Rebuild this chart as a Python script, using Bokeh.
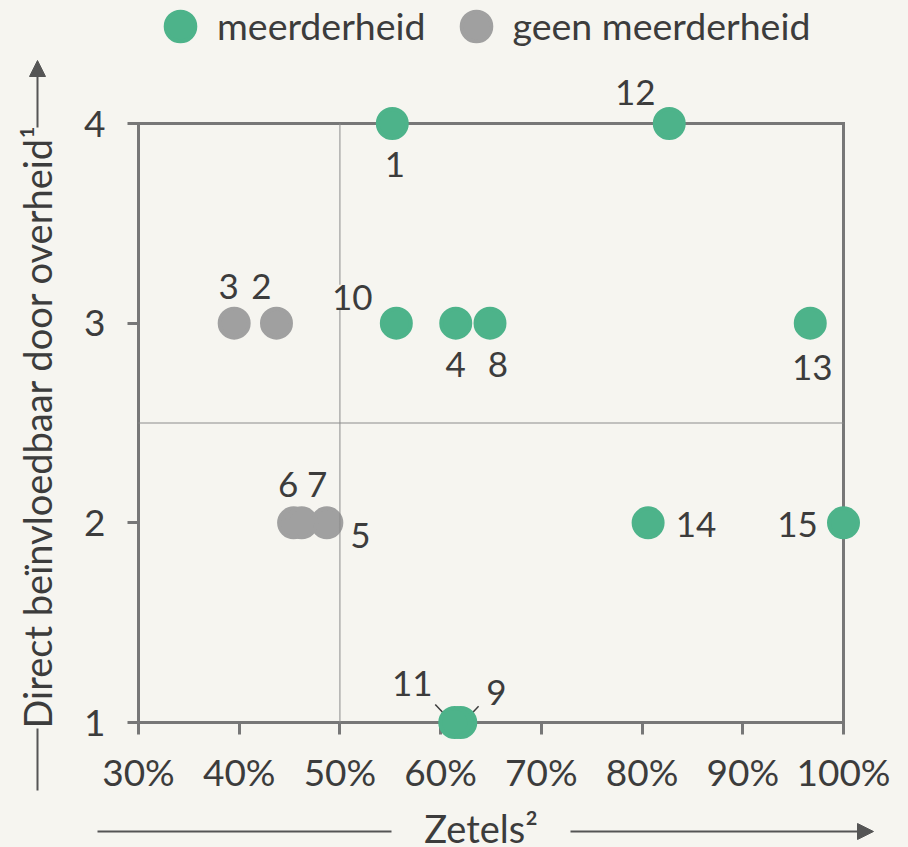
import math
from bokeh.plotting import figure
from bokeh.models import (Range1d, FixedTicker, PrintfTickFormatter, Label, Arrow,
                          NormalHead, ColumnDataSource, CDSView, IndexFilter, Legend,
                          LegendItem, CategoricalColorMapper)
from bokeh.core.properties import value
from bokeh.embed import file_html
from bokeh.resources import INLINE

# ---------------- data ----------------
ids = ["1", "2", "3", "4", "5", "6", "7", "8", "9", "10", "11", "12", "13", "14", "15"]
zetels = [55.2, 43.7, 39.5, 61.5, 48.7, 45.4, 46.2, 64.9, 62.0, 55.6, 61.4, 82.7, 96.7, 80.6, 100.0]
invloed = [4, 3, 3, 3, 2, 2, 2, 3, 1, 3, 1, 4, 3, 2, 2]
groep = ["meerderheid", "geen meerderheid", "geen meerderheid", "meerderheid",
         "geen meerderheid", "geen meerderheid", "geen meerderheid", "meerderheid",
         "meerderheid", "meerderheid", "meerderheid", "meerderheid", "meerderheid",
         "meerderheid", "meerderheid"]
categories = ["meerderheid", "geen meerderheid"]
x_ticks = [30, 40, 50, 60, 70, 80, 90, 100]
y_ticks = [1, 2, 3, 4]
meerderheid_grens = 50
midden_invloed = 2.5
x_title = "Zetels\u00b2"
y_title = "Direct be\u00efnvloedbaar door overheid\u00b9"

# ---------------- styles ----------------
BG = "#f6f5f0"
GREEN = "#4db38a"
GREY = "#a0a0a0"
TXT = "#3c3c3c"
AX = "#777777"
REF = "#8c8c8c"
ARROWC = "#555555"
FONT = "Lato"
FS = "35px"        # point labels
FS_TICK = "37px"
FS_TITLE = "38px"
FS_LEG = "37.5px"

# label offsets in pixels (dx right, dy down)
lab_dx = [2.6, -15, -5.6, 0, 33.5, -5.5, 15.5, 8, 35.5, -44, -42.5, -34, 2, 48, -46]
lab_dy = [41, -37, -37, 41, 13, -38.6, -38.6, 41, -30.5, -26, -39, -31, 44, 1.7, 1.7]
# leader lines (pixel offsets from point): id -> (dx0, dy0, dx1, dy1)
leaders = {"11": (-19.5, -18, -11.2, -9.3), "9": (17.8, -16.3, 11.2, -9.3)}

# ---------------- layout (frame = whole canvas) ----------------
W, H = 906, 845
PX_X0, PX_X1 = 138, 843    # px of first/last x tick
PX_Y1, PX_Y0 = 123, 722    # px of top/bottom y tick
kx = (PX_X1 - PX_X0) / (x_ticks[-1] - x_ticks[0])
ky = (PX_Y0 - PX_Y1) / (y_ticks[-1] - y_ticks[0])
x_start = x_ticks[0] - PX_X0 / kx
x_end = x_ticks[-1] + (W - PX_X1) / kx
y_end = y_ticks[-1] + PX_Y1 / ky
y_start = y_ticks[0] - (H - PX_Y0) / ky


def sx(wx):  # page px -> frame-relative screen units
    return wx


def sy(wy):
    return H - wy


p = figure(width=W, height=H, output_backend="svg", toolbar_location=None,
           x_range=Range1d(x_start, x_end), y_range=Range1d(y_start, y_end),
           min_border_left=0, min_border_right=0, min_border_top=0,
           min_border_bottom=0)
p.title.visible = False
p.background_fill_color = BG
p.border_fill_color = BG
p.outline_line_color = None
p.xgrid.visible = False
p.ygrid.visible = False

for ax in (p.xaxis[0], p.yaxis[0]):
    ax.axis_line_color = AX
    ax.axis_line_width = 3
    ax.major_tick_line_color = AX
    ax.major_tick_line_width = 3
    ax.major_tick_in = 0
    ax.minor_tick_line_color = None
    ax.major_label_text_font = FONT
    ax.major_label_text_font_size = FS_TICK
    ax.major_label_text_color = TXT
    ax.level = "underlay"

p.xaxis[0].ticker = FixedTicker(ticks=x_ticks)
p.xaxis[0].formatter = PrintfTickFormatter(format="%d%%")
p.xaxis[0].bounds = (x_ticks[0], x_ticks[-1])
p.xaxis[0].fixed_location = y_ticks[0]
p.xaxis[0].major_tick_out = 12
p.xaxis[0].major_label_standoff = 14

p.yaxis[0].ticker = FixedTicker(ticks=y_ticks)
p.yaxis[0].bounds = (y_ticks[0], y_ticks[-1])
p.yaxis[0].fixed_location = x_ticks[0]
p.yaxis[0].major_tick_out = 11
p.yaxis[0].major_label_standoff = 22

# frame top / right edges
p.segment(x0=[x_ticks[0], x_ticks[-1]], y0=[y_ticks[-1], y_ticks[0]],
          x1=[x_ticks[-1], x_ticks[-1]], y1=[y_ticks[-1], y_ticks[-1]],
          line_color=AX, line_width=3, line_cap="square")

# leader lines
lx0, ly0, lx1, ly1 = [], [], [], []
for k, (a, b, c, d) in leaders.items():
    i = ids.index(k)
    lx0.append(zetels[i] + a / kx)
    ly0.append(invloed[i] - b / ky)
    lx1.append(zetels[i] + c / kx)
    ly1.append(invloed[i] - d / ky)
p.segment(x0=lx0, y0=ly0, x1=lx1, y1=ly1, line_color=TXT, line_width=1.5)

src = ColumnDataSource(dict(x=zetels, y=invloed, id=ids, groep=groep, dx=lab_dx, dy=lab_dy))
cmap = CategoricalColorMapper(factors=categories, palette=[GREEN, GREY])
pts = p.scatter("x", "y", source=src, size=29,
                fill_color={"field": "groep", "transform": cmap},
                line_color={"field": "groep", "transform": cmap}, line_width=4)

# reference lines
p.segment(x0=[meerderheid_grens, x_ticks[0]], y0=[y_ticks[0], midden_invloed],
          x1=[meerderheid_grens, x_ticks[-1]], y1=[y_ticks[-1], midden_invloed],
          line_color=REF, line_width=1)

i10 = ids.index("10")
others = [i for i in range(len(ids)) if i != i10]
common = dict(x="x", y="y", text="id", x_offset="dx", y_offset="dy", source=src,
              text_font=value(FONT), text_font_size=FS, text_color=TXT,
              text_align="center", text_baseline="middle")
p.text(view=CDSView(filter=IndexFilter(others)), **common)
p.text(view=CDSView(filter=IndexFilter([i10])), background_fill_color=BG, **common)

# legend
GW = 74
items = [LegendItem(label=c, renderers=[pts], index=groep.index(c)) for c in categories]
lg = Legend(items=items, orientation="horizontal", glyph_width=GW, glyph_height=GW,
            label_standoff=0, spacing=13, padding=0, margin=0, border_line_color=None,
            background_fill_alpha=0, label_text_font=FONT, label_text_font_size=FS_LEG,
            label_text_color=TXT, location=(sx(180 - GW / 2), sy(25.5 + GW / 2)))
p.add_layout(lg)

# axis titles
p.add_layout(Label(x=sx(36), y=sy(426), x_units="screen", y_units="screen",
                   text=y_title, angle=math.pi / 2, text_align="center",
                   text_baseline="alphabetic", text_font=FONT, text_font_size=FS_TITLE,
                   text_color=TXT))
p.add_layout(Label(x=sx(480.6), y=sy(827), x_units="screen", y_units="screen",
                   text=x_title, text_align="center", text_baseline="alphabetic",
                   text_font=FONT, text_font_size=FS_TITLE, text_color=TXT))


# arrows
def arrow(x0, y0, x1, y1, head):
    return Arrow(x_start=sx(x0), y_start=sy(y0), x_end=sx(x1), y_end=sy(y1),
                 start_units="screen", end_units="screen",
                 end=NormalHead(size=16, fill_color=ARROWC, line_color=ARROWC) if head else None,
                 line_color=ARROWC, line_width=2)


p.add_layout(arrow(37, 127, 37, 60, True))
p.add_layout(arrow(37, 728, 37, 790, False))
p.add_layout(arrow(97, 831, 391, 831, False))
p.add_layout(arrow(570, 831, 873, 831, True))

html = file_html(p, INLINE)
html = html.replace("</head>",
                    "<style>html,body{margin:0;padding:0;background:%s;}</style></head>" % BG, 1)
open("out.html", "w").write(html)
